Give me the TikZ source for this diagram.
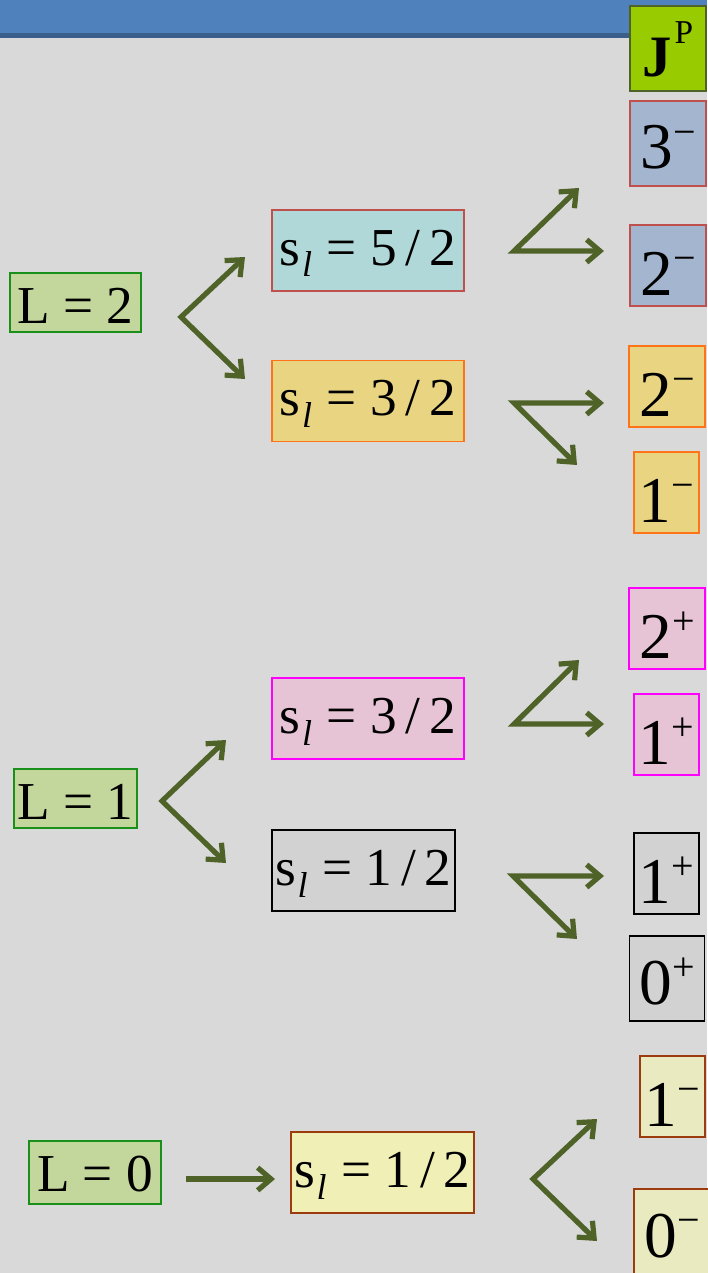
\documentclass[tikz,border=0pt]{standalone}
\usepackage{fontspec}
\setmainfont{Liberation Serif}
\usetikzlibrary{positioning,arrows.meta}

\definecolor{bggray}{HTML}{D9D9D9}
\definecolor{bandblue}{HTML}{4F81BD}
\definecolor{bandline}{HTML}{3A5F8B}
\definecolor{arrgreen}{HTML}{4F6228}
\definecolor{lfill}{HTML}{C3D69B}
\definecolor{ldraw}{HTML}{1A8F1A}
\definecolor{jpfill}{HTML}{99CC00}
\definecolor{jpdraw}{HTML}{4F6228}
\definecolor{redbd}{HTML}{C0504D}
\definecolor{tealfill}{HTML}{B0D8D8}
\definecolor{bluefill}{HTML}{A3B5CF}
\definecolor{orfill}{HTML}{E9D482}
\definecolor{ordraw}{HTML}{FF7418}
\definecolor{pkfill}{HTML}{E6C4D5}
\definecolor{pkdraw}{HTML}{FF00FF}
\definecolor{gyfill}{HTML}{D2D2D2}
\definecolor{ywfill}{HTML}{EAEAC0}
\definecolor{ywsfill}{HTML}{F0EFB6}
\definecolor{ywdraw}{HTML}{9C3B0E}

\newcommand{\spinl}[1]{s\kern1pt\raisebox{-9pt}{\fontsize{27}{27}\selectfont\itshape l}\kern1pt\ = #1}
\newcommand{\jpval}[2]{#1\raisebox{0.36em}{\fontsize{30}{30}\selectfont #2}}

\begin{document}
\begin{tikzpicture}[
  x=0.75pt, y=-0.75pt,
  every node/.style={font=\fontsize{40}{40}\selectfont, inner sep=0pt, line width=1.2pt},
  lbox/.style={rectangle,draw=ldraw,fill=lfill,text height=37.5pt,text depth=6.75pt},
  sbox/.style={rectangle,text height=41.25pt,text depth=19.5pt},
  jbox/.style={rectangle,font=\fontsize{49}{49}\selectfont,text height=52.5pt,text depth=8.25pt},
  jtall/.style={jbox,text height=51pt,text depth=12.75pt},
  fork/.style={draw=arrgreen,line width=3.9pt,line join=miter,{Straight Barb[length=10pt,width=17pt]}-{Straight Barb[length=10pt,width=17pt]}},
  arr/.style={draw=arrgreen,line width=3.9pt,-{Straight Barb[length=10pt,width=17pt]}}
]
\useasboundingbox (0,0) rectangle (707,1273);
\fill[bggray] (0,0) rectangle (707,1273);
% Header
\fill[bandblue] (0,0) rectangle (707,33);
\fill[bandline] (0,33) rectangle (707,38);

% L = 2
\node[lbox, minimum width=98.25pt] (l2) at (75.5,302.5) {L = 2};
\node[sbox, draw=redbd, fill=tealfill, minimum width=144pt] (s52) at (368,250.5) {\spinl{5\,/\,2}};
\node[sbox, draw=ordraw, fill=orfill, minimum width=144pt] (s32a) at (368,401) {\spinl{3\,/\,2}};

% L = 1
\node[lbox, minimum width=92.25pt] (l1) at (75.5,798.5) {L = 1};
\node[sbox, draw=pkdraw, fill=pkfill, minimum width=144pt] (s32b) at (368,718.5) {\spinl{3\,/\,2}};
\node[sbox, draw=black, fill=gyfill, minimum width=137.25pt] (s12a) at (363.5,870.5) {\spinl{1\,/\,2}};

% L = 0
\node[lbox, minimum width=99pt, text depth=9.75pt] (l0) at (95,1172.5) {L = 0};
\node[sbox, draw=ywdraw, fill=ywsfill, minimum width=137.25pt] (s12b) at (382.5,1172.5) {\spinl{1\,/\,2}};

% J^P column
\node[jtall, draw=jpdraw, fill=jpfill, minimum width=57pt, text height=53pt, text depth=10.75pt] (jp) at (668,48.5) {{\fontsize{44}{44}\selectfont\bfseries J}\kern2pt\raisebox{0.5em}{\fontsize{25}{25}\selectfont P}};
\node[jtall, draw=redbd, fill=bluefill, minimum width=57pt] (b3m) at (668,143.5) {\jpval{3}{−}};
\node[jbox, draw=redbd, fill=bluefill, minimum width=57pt] (b2m) at (668,265.5) {\jpval{2}{−}};
\node[jbox, draw=ordraw, fill=orfill, minimum width=57pt] (o2m) at (667,386.5) {\jpval{2}{−}};
\node[jbox, draw=ordraw, fill=orfill, minimum width=48.75pt] (o1m) at (666.5,492.5) {\jpval{1}{−}};
\node[jbox, draw=pkdraw, fill=pkfill, minimum width=57pt] (p2p) at (667,628.5) {\jpval{2}{+}};
\node[jbox, draw=pkdraw, fill=pkfill, minimum width=48.75pt] (p1p) at (666.5,734.5) {\jpval{1}{+}};
\node[jbox, draw=black, fill=gyfill, minimum width=48.75pt] (g1p) at (666.5,873.5) {\jpval{1}{+}};
\node[jtall, draw=black, fill=gyfill, minimum width=56.25pt] (g0p) at (667,978.5) {\jpval{0}{+}};
\node[jbox, draw=ywdraw, fill=ywfill, minimum width=48.75pt] (y1m) at (672.5,1096.5) {\jpval{1}{−}};
\node[jtall, draw=ywdraw, fill=ywfill, minimum width=57pt] (y0m) at (672,1231.5) {\jpval{0}{−}};

% Forks
\coordinate (f2) at (181,317);
\coordinate (f2u) at (245,257);
\coordinate (f2d) at (245,379);
\coordinate (f52) at (514,251);
\coordinate (f52u) at (579,188);
\coordinate (f52r) at (604,251);
\coordinate (f32a) at (514,403);
\coordinate (f32ar) at (604,403);
\coordinate (f32ad) at (577,465);
\coordinate (f32b) at (514,724);
\coordinate (f32bu) at (579,660);
\coordinate (f32br) at (604,724);
\coordinate (f1) at (162,801);
\coordinate (f1u) at (226,740);
\coordinate (f1d) at (226,863);
\coordinate (f12a) at (513,876);
\coordinate (f12ar) at (604,876);
\coordinate (f12ad) at (577,939);
\coordinate (f12b) at (533,1179);
\coordinate (f12bu) at (597,1119);
\coordinate (f12bd) at (597,1241);
\coordinate (a0) at (186,1179);
\coordinate (a0e) at (275,1179);

\draw[fork] (f2u) -- (f2) -- (f2d);
\draw[fork] (f52u) -- (f52) -- (f52r);
\draw[fork] (f32ar) -- (f32a) -- (f32ad);
\draw[fork] (f32bu) -- (f32b) -- (f32br);
\draw[fork] (f1u) -- (f1) -- (f1d);
\draw[fork] (f12ar) -- (f12a) -- (f12ad);
\draw[fork] (f12bu) -- (f12b) -- (f12bd);
\draw[arr] (a0) -- (a0e);
\end{tikzpicture}
\end{document}
